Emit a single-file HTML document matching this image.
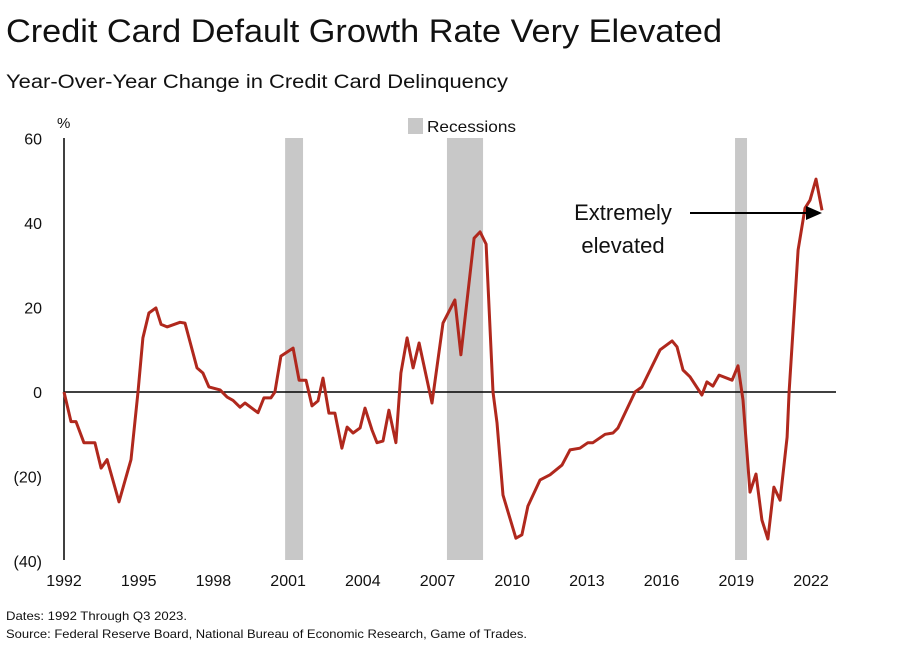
<!DOCTYPE html>
<html><head><meta charset="utf-8"><style>
body{margin:0;background:#fff;font-family:"Liberation Sans",sans-serif;}
svg{display:block}
</style></head><body>
<svg width="900" height="654" viewBox="0 0 900 654" xmlns="http://www.w3.org/2000/svg" font-family="Liberation Sans, sans-serif">
<text x="6" y="42" font-size="32" fill="#111" textLength="716" lengthAdjust="spacingAndGlyphs">Credit Card Default Growth Rate Very Elevated</text>
<text x="6" y="88" font-size="19" fill="#111" textLength="502" lengthAdjust="spacingAndGlyphs">Year-Over-Year Change in Credit Card Delinquency</text>
<text x="57" y="128" font-size="15" fill="#111">%</text>
<rect x="408" y="118" width="15" height="16" fill="#c8c8c8"/>
<text x="427" y="132" font-size="16" fill="#111" textLength="89" lengthAdjust="spacingAndGlyphs">Recessions</text>
<g id="rec"></g>
<g id="yt"></g>
<g id="xt"></g>
<line x1="64" y1="138" x2="64" y2="560" stroke="#000" stroke-width="1.5"/>
<line x1="64" y1="392" x2="836" y2="392" stroke="#000" stroke-width="1.5"/>
<path id="ln" fill="none" stroke="#b0281d" stroke-width="3" stroke-linejoin="round"/>
<text x="623" y="220" font-size="22" text-anchor="middle" fill="#111">Extremely</text>
<text x="623" y="253" font-size="22" text-anchor="middle" fill="#111">elevated</text>
<line x1="690" y1="213" x2="808" y2="213" stroke="#000" stroke-width="2"/>
<polygon points="806,206 822,213 806,220" fill="#000"/>
<text x="6" y="620" font-size="12" fill="#111" textLength="181" lengthAdjust="spacingAndGlyphs">Dates: 1992 Through Q3 2023.</text>
<text x="6" y="638" font-size="12" fill="#111" textLength="521" lengthAdjust="spacingAndGlyphs">Source: Federal Reserve Board, National Bureau of Economic Research, Game of Trades.</text>
</svg>
<script>
const years=[1992.00,1992.28,1992.48,1992.80,1993.00,1993.24,1993.49,1993.73,1994.21,1994.69,1994.97,1995.17,1995.41,1995.69,1995.90,1996.14,1996.66,1996.86,1997.34,1997.58,1997.82,1998.27,1998.55,1998.79,1999.07,1999.27,1999.79,2000.03,2000.31,2000.47,2000.71,2001.20,2001.44,2001.72,2001.96,2002.20,2002.40,2002.64,2002.88,2003.16,2003.37,2003.61,2003.89,2004.09,2004.37,2004.57,2004.81,2005.05,2005.33,2005.53,2005.78,2006.02,2006.26,2006.78,2007.22,2007.70,2007.94,2008.47,2008.71,2008.95,2009.23,2009.39,2009.63,2010.15,2010.39,2010.63,2011.12,2011.52,2012.00,2012.32,2012.72,2013.04,2013.24,2013.73,2014.05,2014.25,2014.93,2015.21,2015.94,2016.42,2016.62,2016.86,2017.14,2017.62,2017.82,2018.06,2018.31,2018.83,2019.07,2019.27,2019.55,2019.79,2020.03,2020.27,2020.51,2020.76,2021.04,2021.12,2021.48,2021.76,2021.96,2022.20,2022.44];
const values=[0,-7,-7,-12,-12,-12,-18,-16,-26,-16,0,12.8,18.7,19.9,16,15.4,16.5,16.3,5.7,4.5,1.2,0.5,-1.2,-2,-3.6,-2.6,-4.9,-1.4,-1.4,0,8.5,10.4,2.8,2.8,-3.3,-2.1,3.3,-5,-5,-13.3,-8.3,-9.7,-8.5,-3.8,-9,-12,-11.6,-4.3,-12,4.5,12.8,5.7,11.6,-2.6,16.3,21.8,8.8,36.4,37.9,35,0,-7.3,-24.4,-34.6,-33.8,-27,-20.8,-19.6,-17.3,-13.7,-13.3,-12,-12,-10,-9.7,-8.5,0,1.2,10,12.1,10.7,5.2,3.6,-0.7,2.4,1.4,4,2.8,6.2,-1.9,-23.7,-19.4,-30.3,-34.8,-22.5,-25.6,-10.7,0,33.6,43.5,45.4,50.4,43];
const recStart=[2000.88,2007.38,2018.95];
const recEnd=[2001.60,2008.83,2019.43];
const yTicks=[60,40,20,0,-20,-40];
const yTickLabels=["60","40","20","0","(20)","(40)"];
const xTicks=[1992,1995,1998,2001,2004,2007,2010,2013,2016,2019,2022];
const NS="http://www.w3.org/2000/svg";
function X(y){return 64+(y-1992)*24.9;}
function Y(v){return 392-v*4.225;}
const rec=document.getElementById('rec');
recStart.forEach((s,i)=>{
 const r=document.createElementNS(NS,'rect');
 r.setAttribute('x',X(s));r.setAttribute('width',X(recEnd[i])-X(s));
 r.setAttribute('y',138);r.setAttribute('height',422);r.setAttribute('fill','#c8c8c8');
 
 
 rec.appendChild(r);
});
const yt=document.getElementById('yt');
yTicks.forEach((v,i)=>{
 const t=document.createElementNS(NS,'text');
 t.setAttribute('x',42);t.setAttribute('y',Y(v)+6);t.setAttribute('text-anchor','end');
 t.setAttribute('font-size','16');t.setAttribute('fill','#111');t.textContent=yTickLabels[i];
 
 
 yt.appendChild(t);
});
const xt=document.getElementById('xt');
xTicks.forEach(v=>{
 const t=document.createElementNS(NS,'text');
 t.setAttribute('x',X(v));t.setAttribute('y',586);t.setAttribute('text-anchor','middle');
 t.setAttribute('font-size','16');t.setAttribute('fill','#111');t.textContent=v;
 
 
 xt.appendChild(t);
});
document.getElementById('ln').setAttribute('d',years.map((y,i)=>(i?'L':'M')+X(y).toFixed(1)+','+Y(values[i]).toFixed(1)).join(''));
</script>
</body></html>
